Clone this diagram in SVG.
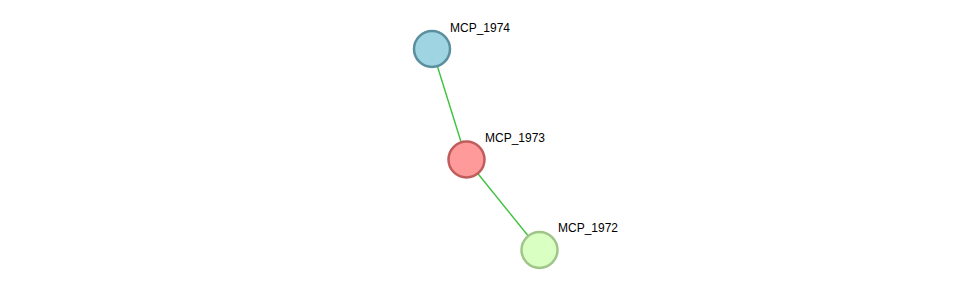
<svg xmlns="http://www.w3.org/2000/svg" width="976" height="295" viewBox="0 0 976 295">
<style>
.edge{stroke:#3ec23e;stroke-width:1.4;fill:none}
.node circle{stroke-width:2.5}
.node text{font-family:"Liberation Sans",Arial,sans-serif;font-size:12px;fill:#000}
</style>
<rect width="976" height="295" fill="#fff"/>
<g id="connectors">
<line class="edge" x1="432" y1="49" x2="466.5" y2="159.5"/>
<line class="edge" x1="466.5" y1="159.5" x2="539.5" y2="250"/>
</g>
<g id="MCP_1974" class="node">
<circle cx="432" cy="49" r="18" fill="#9fd4e2" stroke="#5b8fa0"/>
<text x="450" y="32">MCP_1974</text>
</g>
<g id="MCP_1973" class="node">
<circle cx="466.5" cy="159.5" r="18" fill="#ff9a9a" stroke="#c05c5c"/>
<text x="485" y="142">MCP_1973</text>
</g>
<g id="MCP_1972" class="node">
<circle cx="539.5" cy="250" r="18" fill="#d9ffc2" stroke="#9fc688"/>
<text x="558" y="232">MCP_1972</text>
</g>
</svg>
